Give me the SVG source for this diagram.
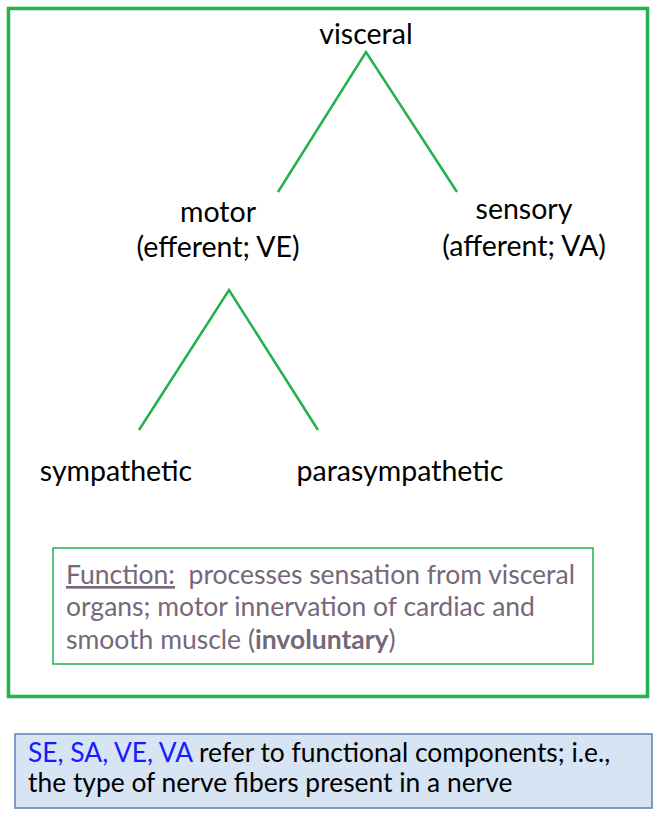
<svg xmlns="http://www.w3.org/2000/svg" width="670" height="818" viewBox="0 0 670 818">
<style>
.t{font-family:Lato,"Open Sans","Liberation Sans",sans-serif;font-size:28.5px;fill:#000}
.m{text-anchor:middle}
.f{font-family:Lato,"Open Sans","Liberation Sans",sans-serif;font-size:26.5px;fill:#76687a}
.b{font-family:Lato,"Open Sans","Liberation Sans",sans-serif;font-size:26.4px;fill:#000}
.e{stroke:#22b14c;stroke-width:2.5;fill:none}
</style>
<rect x="8.5" y="8.5" width="639" height="688" fill="none" stroke="#22b14c" stroke-width="3.5"/>
<g id="connectors">
<path class="e" d="M278 192 L366 52 L457 192"/>
<path class="e" d="M139 430 L229 290 L318 430"/>
</g>
<g id="visceral"><text class="t m" x="366" y="44">visceral</text></g>
<g id="motor"><text class="t m" x="218" y="222">motor</text><text class="t m" x="218" y="257">(efferent; VE)</text></g>
<g id="sensory"><text class="t m" x="524" y="219">sensory</text><text class="t m" x="524" y="256">(afferent; VA)</text></g>
<g id="sympathetic"><text class="t m" x="116" y="481">sympathetic</text></g>
<g id="parasympathetic"><text class="t m" x="400" y="481">parasympathetic</text></g>
<g id="function">
<rect x="53" y="548" width="540" height="116" fill="#fff" stroke="#22b14c" stroke-width="1.5"/>
<text class="f" x="66" y="584"><tspan text-decoration="underline">Function:</tspan>&#160; processes sensation from visceral</text>
<text class="f" x="66" y="616">organs; motor innervation of cardiac and</text>
<text class="f" x="66" y="649">smooth muscle (<tspan font-weight="bold">involuntary</tspan>)</text>
</g>
<g id="note">
<rect x="15" y="734" width="637" height="74" fill="#d6e4f4" stroke="#5b7fb5" stroke-width="1.5"/>
<text class="b" x="28" y="762"><tspan fill="#1a1aff">SE, SA, VE, VA</tspan> refer to functional components; i.e.,</text>
<text class="b" x="28" y="792">the type of nerve fibers present in a nerve</text>
</g>
</svg>
